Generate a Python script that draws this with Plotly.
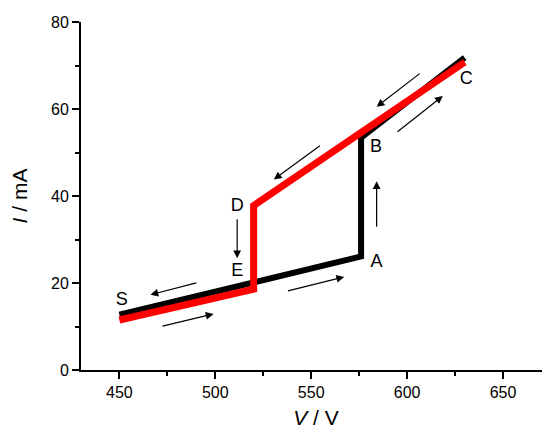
import plotly.graph_objects as go

# forward sweep (black) and reverse sweep (red)
v_up = [450, 520, 576, 576, 630]
i_up = [12.7, 20.0, 26.1, 53.4, 71.8]
v_down = [630, 520, 520, 450]
i_down = [70.8, 37.8, 18.6, 11.5]

# point labels
label_text = ['S', 'A', 'B', 'C', 'D', 'E']
label_v = [451.2, 584.1, 583.8, 630.8, 511.4, 511.4]
label_i = [16.0, 24.6, 51.1, 66.8, 37.6, 22.7]

# direction arrows: tail (v0, i0) -> head (v1, i1)
arrow_v0 = [607.3, 594.2, 555.3, 584.1, 511.4, 490.9, 471.7, 537.1]
arrow_i0 = [68.4, 54.5, 51.8, 32.6, 35.0, 20.1, 10.0, 18.1]
arrow_v1 = [584.1, 618.6, 530.5, 584.1, 511.4, 466.2, 499.1, 567.2]
arrow_i1 = [60.5, 63.0, 43.8, 43.4, 25.7, 17.3, 12.9, 21.4]

fig = go.Figure()

fig.add_trace(go.Scatter(
    x=v_up, y=i_up, mode='lines',
    line=dict(color='black', width=6),
    showlegend=False, hoverinfo='skip'
))
fig.add_trace(go.Scatter(
    x=v_down, y=i_down, mode='lines',
    line=dict(color='#ff0000', width=7),
    showlegend=False, hoverinfo='skip'
))

fig.add_trace(go.Scatter(
    x=label_v, y=label_i, mode='text', text=label_text,
    textfont=dict(family='Liberation Sans, Arial', size=18, color='black'),
    showlegend=False, hoverinfo='skip'
))

for x0, y0, x1, y1 in zip(arrow_v0, arrow_i0, arrow_v1, arrow_i1):
    fig.add_annotation(
        x=x1, y=y1, ax=x0, ay=y0,
        xref='x', yref='y', axref='x', ayref='y',
        text='', showarrow=True,
        arrowhead=2, arrowsize=1.3, arrowwidth=1.2, arrowcolor='black'
    )

axis_font = dict(family='Liberation Sans, Arial', size=16, color='black')
title_font = dict(family='Liberation Sans, Arial', size=21, color='black')

fig.update_xaxes(
    range=[430, 675], tickvals=[450, 500, 550, 600, 650],
    ticks='outside', ticklen=7, tickwidth=1.5, tickcolor='black',
    minor=dict(tickvals=[475, 525, 575, 625, 675], ticks='outside',
               ticklen=4, tickwidth=1.5, tickcolor='black'),
    showline=True, linecolor='black', linewidth=2,
    showgrid=False, zeroline=False, tickfont=axis_font,
    title=dict(text='<i>V</i> / V', font=title_font, standoff=10)
)
fig.update_yaxes(
    range=[0, 80], tickvals=[0, 20, 40, 60, 80],
    ticks='outside', ticklen=7, tickwidth=1.5, tickcolor='black',
    minor=dict(tickvals=[10, 30, 50, 70], ticks='outside',
               ticklen=4, tickwidth=1.5, tickcolor='black'),
    showline=True, linecolor='black', linewidth=2,
    showgrid=False, zeroline=False, tickfont=axis_font,
    title=dict(text='<i>I</i> / mA', font=title_font, standoff=19)
)

fig.update_layout(
    width=550, height=429,
    margin=dict(l=73, r=7, t=14, b=67),
    plot_bgcolor='white', paper_bgcolor='white'
)

fig.write_html("out.html")
